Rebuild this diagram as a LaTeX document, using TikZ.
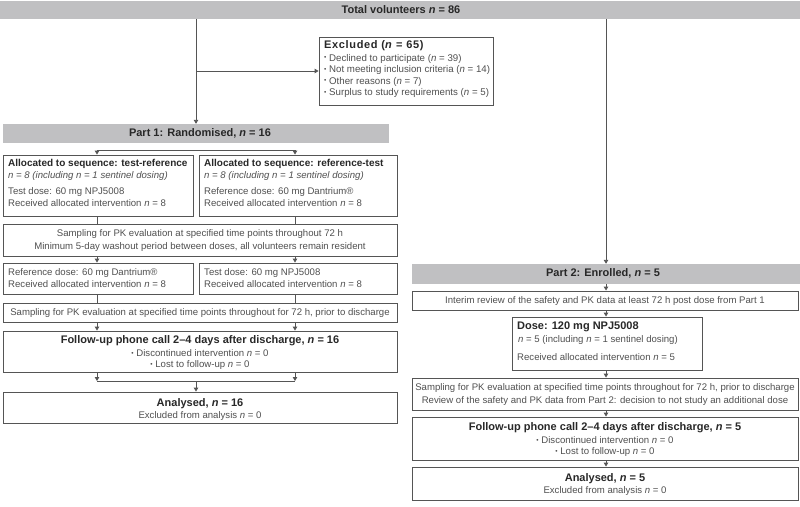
\documentclass[tikz,border=0pt]{standalone}
\usepackage{fontspec}
\setmainfont{Liberation Sans}
\usetikzlibrary{arrows.meta,fit}
\definecolor{bannergray}{RGB}{192,192,194}
\definecolor{linegray}{RGB}{85,85,85}
\definecolor{txtgray}{RGB}{80,80,80}
\definecolor{ttlgray}{RGB}{40,40,40}
\newcommand{\fbody}{\fontsize{9.6}{11}\selectfont}
\newcommand{\ftitle}{\fontsize{10}{12}\selectfont\bfseries}
\newcommand{\fbig}{\fontsize{11}{13}\selectfont\bfseries}
\newcommand{\nn}{\textit{n}}
\newcommand{\smallbul}{\raisebox{0.25ex}{\fontsize{6.5}{6.5}\selectfont\textbullet}}
\begin{document}
\begin{tikzpicture}[x=1pt,y=-1pt,
  boxs/.style={draw=linegray,line width=0.9pt,inner sep=0pt,fill=white},
  bannr/.style={fill=bannergray,inner sep=0pt},
  lin/.style={draw=linegray,line width=0.9pt},
  arrw/.style={draw=linegray,line width=0.9pt,-{Triangle[length=4pt,width=4.5pt]}},
  bodyt/.style={font=\fbody,text=txtgray,inner sep=0pt},
  exclt/.style={font=\fontsize{9.7}{12}\selectfont,text=txtgray,inner sep=0pt},
  ttlt/.style={font=\ftitle,text=ttlgray,inner sep=0pt},
  bigt/.style={font=\fbig,text=ttlgray,inner sep=0pt}]
\useasboundingbox (0,0) rectangle (800,506);

% ---------- boxes ----------
\node[bannr,fit={(0,1)(800,19)}] (top) {};
\node[boxs,fit={(319,37)(493,105)}] (excl) {};
\node[bannr,fit={(3,124)(389,143)}] (p1) {};
\node[boxs,fit={(3,155)(193,216)}] (a1) {};
\node[boxs,fit={(199,155)(397,216)}] (a2) {};
\node[boxs,fit={(3,224)(397,256)}] (s1) {};
\node[boxs,fit={(3,263)(193,294)}] (d1) {};
\node[boxs,fit={(199,263)(397,294)}] (d2) {};
\node[boxs,fit={(3,303)(397,322)}] (s2) {};
\node[boxs,fit={(3,331)(397,372)}] (f1) {};
\node[boxs,fit={(3,392)(397,423)}] (an1) {};

\node[bannr,fit={(412,264)(800,284)}] (p2) {};
\node[boxs,fit={(412,291)(798,310)}] (ir) {};
\node[boxs,fit={(512,317)(702,370)}] (dz) {};
\node[boxs,fit={(412,378)(798,410)}] (sr) {};
\node[boxs,fit={(412,417)(798,460)}] (fr) {};
\node[boxs,fit={(412,467)(798,500)}] (anr) {};

% ---------- texts ----------
\node[bigt,anchor=mid] (ttop) at (401,10.5) {Total volunteers \nn{} = 86};
\node[bigt,anchor=mid west] (tex0) at (324,46) {\addfontfeature{LetterSpace=6}Excluded (\nn{} = 65)};
\node[exclt,anchor=mid west] (tex1) at (324,58.5) {\smallbul\ Declined to participate (\nn{} = 39)};
\node[exclt,anchor=mid west] (tex2) at (324,70) {\smallbul\ Not meeting inclusion criteria (\nn{} = 14)};
\node[exclt,anchor=mid west] (tex3) at (324,81.5) {\smallbul\ Other reasons (\nn{} = 7)};
\node[exclt,anchor=mid west] (tex4) at (324,93) {\smallbul\ Surplus to study requirements (\nn{} = 5)};

\node[bigt,anchor=mid] (tp1) at (200,134) {Part 1: Randomised, \nn{} = 16};

\node[ttlt,anchor=mid west] (ta1a) at (8,164) {Allocated to sequence: test-reference};
\node[bodyt,anchor=mid west] (ta1b) at (8,176) {\itshape n = 8 (including n = 1 sentinel dosing)};
\node[bodyt,anchor=mid west] (ta1c) at (8,192) {Test dose: 60 mg NPJ5008};
\node[bodyt,anchor=mid west] (ta1d) at (8,204) {Received allocated intervention \nn{} = 8};

\node[ttlt,anchor=mid west] (ta2a) at (204,164) {Allocated to sequence: reference-test};
\node[bodyt,anchor=mid west] (ta2b) at (204,176) {\itshape n = 8 (including n = 1 sentinel dosing)};
\node[bodyt,anchor=mid west] (ta2c) at (204,192) {Reference dose: 60 mg Dantrium®};
\node[bodyt,anchor=mid west] (ta2d) at (204,204) {Received allocated intervention \nn{} = 8};

\node[bodyt,anchor=mid] (ts1a) at (200,234) {Sampling for PK evaluation at specified time points throughout 72 h};
\node[bodyt,anchor=mid] (ts1b) at (200,247) {Minimum 5-day washout period between doses, all volunteers remain resident};

\node[bodyt,anchor=mid west] (td1a) at (8,272.5) {Reference dose: 60 mg Dantrium®};
\node[bodyt,anchor=mid west] (td1b) at (8,285) {Received allocated intervention \nn{} = 8};
\node[bodyt,anchor=mid west] (td2a) at (204,272.5) {Test dose: 60 mg NPJ5008};
\node[bodyt,anchor=mid west] (td2b) at (204,285) {Received allocated intervention \nn{} = 8};

\node[bodyt,anchor=mid] (ts2) at (200,312.5) {Sampling for PK evaluation at specified time points throughout for 72 h, prior to discharge};

\node[bigt,anchor=mid] (tf1a) at (200,341) {Follow-up phone call 2--4 days after discharge, \nn{} = 16};
\node[bodyt,anchor=mid] (tf1b) at (200,354) {\smallbul\ Discontinued intervention \nn{} = 0};
\node[bodyt,anchor=mid] (tf1c) at (200,365) {\smallbul\ Lost to follow-up \nn{} = 0};

\node[bigt,anchor=mid] (tan1a) at (200,404) {Analysed, \nn{} = 16};
\node[bodyt,anchor=mid] (tan1b) at (200,415.5) {Excluded from analysis \nn{} = 0};

\node[bigt,anchor=mid] (tp2) at (603,274) {Part 2: Enrolled, \nn{} = 5};
\node[bodyt,anchor=mid] (tir) at (605,300.5) {Interim review of the safety and PK data at least 72 h post dose from Part 1};
\node[bigt,anchor=mid west] (tdza) at (517,327) {Dose: 120 mg NPJ5008};
\node[bodyt,anchor=mid west] (tdzb) at (518,340) {\nn{} = 5 (including \nn{} = 1 sentinel dosing)};
\node[bodyt,anchor=mid west] (tdzc) at (517,357.5) {Received allocated intervention \nn{} = 5};
\node[bodyt,anchor=mid] (tsra) at (605,388) {Sampling for PK evaluation at specified time points throughout for 72 h, prior to discharge};
\node[bodyt,anchor=mid] (tsrb) at (605,401) {Review of the safety and PK data from Part 2: decision to not study an additional dose};
\node[bigt,anchor=mid] (tfra) at (605,428) {Follow-up phone call 2--4 days after discharge, \nn{} = 5};
\node[bodyt,anchor=mid] (tfrb) at (605,441) {\smallbul\ Discontinued intervention \nn{} = 0};
\node[bodyt,anchor=mid] (tfrc) at (605,452) {\smallbul\ Lost to follow-up \nn{} = 0};
\node[bigt,anchor=mid] (tanra) at (605,478.5) {Analysed, \nn{} = 5};
\node[bodyt,anchor=mid] (tanrb) at (605,491) {Excluded from analysis \nn{} = 0};

% ---------- connectors ----------
\coordinate (cL) at (97,0);
\coordinate (cR) at (295,0);
\coordinate (cM) at (196,0);
\coordinate (yb1) at (0,150);
\coordinate (yb2) at (0,381);

\draw[arrw] (top.south -| p1.north) -- (p1.north);
\draw[arrw] (p1.north |- excl.west) -- (excl.west);
\draw[arrw] (top.south -| p2.north) -- (p2.north);

\draw[lin] (cL |- yb1) -- (cR |- yb1);
\draw[arrw] (cL |- yb1) -- (cL |- a1.north);
\draw[arrw] (cR |- yb1) -- (cR |- a2.north);
\draw[lin] (cL |- a1.south) -- (cL |- s1.north);
\draw[lin] (cR |- a2.south) -- (cR |- s1.north);
\draw[arrw] (cL |- s1.south) -- (cL |- d1.north);
\draw[arrw] (cR |- s1.south) -- (cR |- d2.north);
\draw[lin] (cL |- d1.south) -- (cL |- s2.north);
\draw[lin] (cR |- d2.south) -- (cR |- s2.north);
\draw[arrw] (cL |- s2.south) -- (cL |- f1.north);
\draw[arrw] (cR |- s2.south) -- (cR |- f1.north);
\draw[arrw] (cL |- f1.south) -- (cL |- yb2);
\draw[arrw] (cR |- f1.south) -- (cR |- yb2);
\draw[lin] (cL |- yb2) -- (cR |- yb2);
\draw[arrw] (cM |- yb2) -- (cM |- an1.north);

\draw[arrw] (p2.south) -- (p2.south |- ir.north);
\draw[arrw] (p2.south |- ir.south) -- (p2.south |- dz.north);
\draw[arrw] (p2.south |- dz.south) -- (p2.south |- sr.north);
\draw[arrw] (p2.south |- sr.south) -- (p2.south |- fr.north);
\draw[arrw] (p2.south |- fr.south) -- (p2.south |- anr.north);
\end{tikzpicture}
\end{document}
